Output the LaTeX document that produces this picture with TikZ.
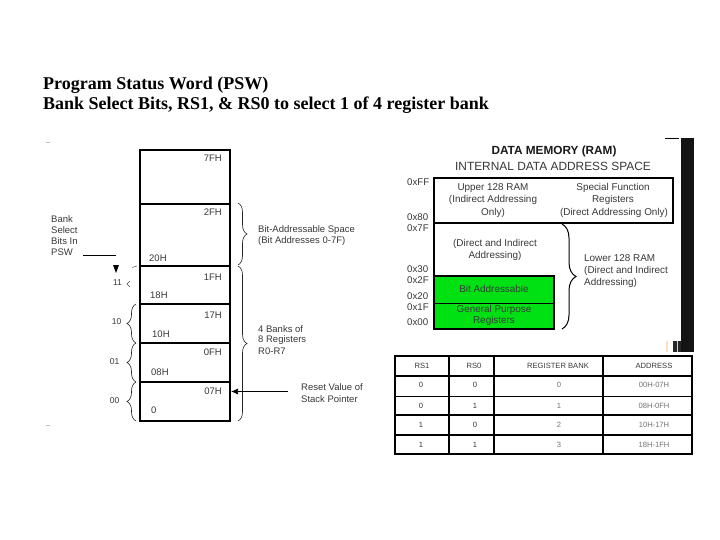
\documentclass[tikz,border=0pt]{standalone}
\usepackage{fontspec}
\setmainfont{Liberation Sans}
\newfontfamily\titlefont{Liberation Serif}
\usetikzlibrary{decorations.pathreplacing,arrows.meta}
\definecolor{ramgreen}{RGB}{0,225,20}
\definecolor{inktext}{gray}{0.22}
\definecolor{paletext}{gray}{0.45}
\tikzset{
  lab/.style={inner sep=0pt,text=inktext,font=\fontsize{9.5}{9.5}\selectfont},
  labw/.style={lab,anchor=west},
  labe/.style={lab,anchor=east},
  ramlab/.style={lab,font=\fontsize{9.9}{9.9}\selectfont},
  ramw/.style={ramlab,anchor=west},
  addr/.style={labw,font=\fontsize{9.7}{9.7}\selectfont},
  keylab/.style={lab,font=\fontsize{8.5}{8.5}\selectfont},
  tab/.style={lab,font=\fontsize{7.6}{7.6}\selectfont},
  tabpale/.style={tab,text=paletext},
  heavy/.style={draw=black,line width=1.6pt},
  medium/.style={draw=black,line width=1.1pt},
  tabthick/.style={draw=black,line width=1.3pt},
  tabthin/.style={draw=black,line width=0.8pt},
  bracel/.style={draw=black!85,line width=0.6pt,decorate,decoration={brace,amplitude=#1}},
  title/.style={inner sep=0pt,anchor=west,font=\titlefont\bfseries\fontsize{18}{18}\selectfont,text=black},
}
\begin{document}
\begin{tikzpicture}[x=1pt,y=-1pt]
\useasboundingbox[fill=white] (0,0) rectangle (720,540);
% title
\node[title] (t1) at (43,85) {Program Status Word (PSW)};
\node[title] (t2) at (43,105) {Bank Select Bits, RS1, \& RS0 to select 1 of 4 register bank};
% specks
\draw[black!25,line width=0.5pt] (46,142) -- (50,142) (46,425) -- (50,425);
% left stack
\draw[heavy] (140,150) rectangle (230,421);
\draw[heavy] (140,204) -- (230,204);
\draw[medium] (140,266) -- (230,266);
\draw[heavy] (140,304) -- (230,304);
\draw[medium] (140,343) -- (230,343);
\draw[medium] (140,382) -- (230,382);
\foreach \n/\t/\y in {a/7FH/158,b/2FH/212,c/1FH/277,d/17H/315,e/0FH/352,f/07H/391}
  \node[labe] (top\n) at (222,\y) {\t};
\node[labw] (low1) at (149,258) {20H};
\node[labw] (low2) at (150,295) {18H};
\node[labw] (low3) at (152,334) {10H};
\node[labw] (low4) at (151,372) {08H};
\node[labw] (low5) at (151,410) {0};
% left notes
\node[labw] (b1) at (51,219) {Bank};
\node[labw] (b2) at (51,230) {Select};
\node[labw] (b3) at (51,241) {Bits In};
\node[labw] (b4) at (51,252) {PSW};
\coordinate (ls) at (83,255);
\coordinate (le) at (116,255);
\draw[black,line width=0.7pt] (ls) -- (le);
\fill[black] (113,265) -- (119,265) -- (116,273) -- cycle;
\node[keylab] (k11) at (117.5,283) {11};
\node[keylab] (k10) at (116.5,322) {10};
\node[keylab] (k01) at (114.5,362) {01};
\node[keylab] (k00) at (114.5,401) {00};
% left braces
\draw[black!70,line width=0.5pt] (132,267.5) -- (137,266);
\draw[black!70,line width=0.5pt] (130,281) -- (127,284) -- (130,287);
\draw[bracel=9] (136,343) -- (136,304);
\draw[bracel=9] (136,382) -- (136,343);
\draw[bracel=9] (136,421) -- (136,382);
% right of stack
\draw[bracel=9] (238,203) -- (238,265);
\draw[bracel=9] (238,266) -- (238,421);
\node[labw] (s1) at (258,230) {Bit-Addressable Space};
\node[labw] (s2) at (258,241) {(Bit Addresses 0-7F)};
\node[labw] (s3) at (258,329) {4 Banks of};
\node[labw] (s4) at (258,340) {8 Registers};
\node[labw] (s5) at (258,351) {R0-R7};
\node[labw] (s6) at (301,387) {Reset Value of};
\node[labw] (s7) at (301,399) {Stack Pointer};
\coordinate (spTail) at (288,391.5);
\coordinate (spHead) at (231,391.5);
\draw[black,line width=0.7pt,-{Latex[length=7pt,width=6pt]}] (spTail) -- (spHead);
% stripe on the right
\fill[black!92] (681,138) rectangle (694,352);
\fill[black!85] (673,341) rectangle (681,352);
\fill[black!30!orange!30] (676.5,341) rectangle (677.5,352);
\fill[orange!25] (666,341) rectangle (668,352);
\draw[black,line width=0.7pt] (665,138) -- (679,138);
% RAM map
\node[inner sep=0pt,font=\bfseries\fontsize{11.8}{11.8}\selectfont,text=black!90] (r1) at (554,151) {DATA MEMORY (RAM)};
\node[inner sep=0pt,font=\fontsize{11.9}{11.9}\selectfont,text=inktext] (r2) at (553,166) {INTERNAL DATA ADDRESS SPACE};
\fill[ramgreen] (434,276) rectangle (554,329);
\draw[medium] (434,178) rectangle (673,223);
\draw[medium] (434,223) -- (434,329) -- (554,329) -- (554,276) -- (434,276);
\draw[black,line width=0.7pt] (434,303) -- (554,303);
\foreach \n/\t/\y in {a/0xFF/182,b/0x80/217,c/0x7F/228,d/0x30/269,e/0x2F/280,f/0x20/296,g/0x1F/307,h/0x00/322}
  \node[addr] (ad\n) at (407,\y) {\t};
\node[ramlab] (u1) at (493,188) {Upper 128 RAM};
\node[ramlab] (u2) at (493,200) {(Indirect Addressing};
\node[ramlab] (u3) at (493,213) {Only)};
\node[ramlab] (f1) at (613,188) {Special Function};
\node[ramlab] (f2) at (613,200) {Registers};
\node[ramlab] (f3) at (614,213) {(Direct Addressing Only)};
\node[ramlab] (d1) at (495,244) {(Direct and Indirect};
\node[ramlab] (d2) at (495,256) {Addressing)};
\node[ramlab] (g1) at (494,289) {Bit Addressable};
\node[ramlab] (g2) at (494,310) {General Purpose};
\node[ramlab] (g3) at (494,321) {Registers};
\node[ramw] (w1) at (584,258) {Lower 128 RAM};
\node[ramw] (w2) at (584,271) {(Direct and Indirect};
\node[ramw] (w3) at (584,283) {Addressing)};
\draw[draw=black,line width=1pt,decorate,decoration={brace,amplitude=14pt}] (562,224) -- (562,329);
% table
\draw[tabthick] (395,356) rectangle (692,454);
\draw[tabthick] (395,376) -- (692,376);
\draw[tabthin] (395,396) -- (692,396);
\draw[tabthick] (395,415) -- (692,415);
\draw[tabthick] (395,435) -- (692,435);
\draw[tabthick] (449,356) -- (449,454);
\draw[tabthick] (494,356) -- (494,454);
\draw[tabthick] (603,356) -- (603,454);
\node[tab] (h1) at (422,366) {RS1};
\node[tab] (h2) at (474,366) {RS0};
\node[tab] (h3) at (558,366) {REGISTER BANK};
\node[tab] (h4) at (654,366) {ADDRESS};
\node[tab] (c11) at (421,385) {0};
\node[tab] (c12) at (475,385) {0};
\node[tabpale] (c13) at (559,385) {0};
\node[tabpale] (c14) at (654,385) {00H-07H};
\node[tab] (c21) at (421,406) {0};
\node[tab] (c22) at (475,406) {1};
\node[tabpale] (c23) at (559,406) {1};
\node[tabpale] (c24) at (654,406) {08H-0FH};
\node[tab] (c31) at (421,425) {1};
\node[tab] (c32) at (475,425) {0};
\node[tabpale] (c33) at (559,425) {2};
\node[tabpale] (c34) at (654,425) {10H-17H};
\node[tab] (c41) at (421,445) {1};
\node[tab] (c42) at (475,445) {1};
\node[tabpale] (c43) at (559,445) {3};
\node[tabpale] (c44) at (654,445) {18H-1FH};
\end{tikzpicture}
\end{document}
